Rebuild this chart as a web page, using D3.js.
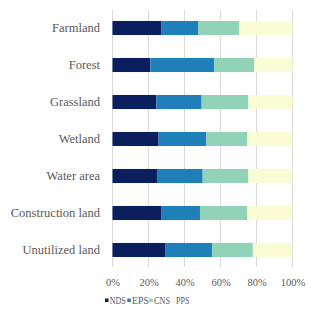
<!DOCTYPE html>
<html><head><meta charset="utf-8">
<script src="https://cdn.jsdelivr.net/npm/d3@7"></script>
<style>body{margin:0;background:#fff}</style>
</head><body>
<svg id="c" width="311" height="309"></svg>
<script>
const categories = ["Farmland","Forest","Grassland","Wetland","Water area","Construction land","Unutilized land"];
const seriesNames = ["NDS","EPS","CNS","PPS"];
const NDS = [27.0, 21.0, 24.3, 25.6, 24.7, 27.3, 29.5];
const EPS = [20.5, 35.6, 25.2, 26.4, 25.4, 21.3, 25.9];
const CNS = [23.0, 22.2, 26.0, 22.9, 25.4, 26.3, 22.6];
const PPS = [29.5, 21.2, 24.5, 25.1, 24.5, 25.1, 22.0];
const colors = ["#0b1f5e","#1f7fb8","#91d3b7","#fafdd3"];
const tickValues = [0,0.2,0.4,0.6,0.8,1];

const seriesVals = [NDS, EPS, CNS, PPS];
const rows = categories.map((c,i)=>{
  const o = {cat:c};
  seriesNames.forEach((s,j)=>o[s]=seriesVals[j][i]);
  return o;
});
const stacked = d3.stack().keys(seriesNames).offset(d3.stackOffsetExpand)(rows);

const svg = d3.select("#c");
const x = d3.scaleLinear().domain([0,1]).range([112.5,292.5]);
const y = d3.scaleBand().domain(categories).range([9.5,268.5]).paddingInner(0.62).paddingOuter(0.31);
const font = "'Liberation Serif', 'Times New Roman', serif";
const txt = "#595959";

// gridlines
svg.append("g").selectAll("line").data(tickValues).join("line")
  .attr("x1",d=>x(d)).attr("x2",d=>x(d)).attr("y1",10).attr("y2",267)
  .attr("stroke","#d9d9d9").attr("stroke-width",1);

// bars
svg.append("g").selectAll("g").data(stacked).join("g")
  .attr("fill",(d,i)=>colors[i])
  .selectAll("rect").data(d=>d).join("rect")
  .attr("x",d=>x(d[0])).attr("width",d=>x(d[1])-x(d[0]))
  .attr("y",d=>y(d.data.cat)).attr("height",y.bandwidth());

// category labels
svg.append("g").selectAll("text").data(categories).join("text")
  .attr("x",100).attr("y",d=>y(d)+y.bandwidth()/2).attr("dy","0.35em")
  .attr("text-anchor","end").attr("font-family",font).attr("font-size",12.5)
  .attr("fill",txt).text(d=>d);

// x axis
const xAxis = d3.axisBottom(x).tickValues(tickValues).tickFormat(d3.format(".0%")).tickSize(0).tickPadding(0);
const gx = svg.append("g").attr("transform","translate(0,278)").call(xAxis);
gx.select(".domain").remove();
gx.selectAll("text").attr("font-family",font).attr("font-size",10.5).attr("fill",txt).attr("dy","0.35em").attr("y",4.5);

// legend
const legX = [105,127.3,149.3,171.3];
const legW = [16,16.7,16,13.3];
const lg = svg.append("g").selectAll("g").data(seriesNames).join("g")
  .attr("transform",(d,i)=>`translate(${legX[i]},300)`);
lg.append("rect").attr("x",0).attr("y",-1.5).attr("width",3.5).attr("height",3.5).attr("fill",(d,i)=>colors[i]);
lg.append("text").attr("x",4.8).attr("y",0).attr("dy","0.35em").attr("font-family",font).attr("font-size",10.5)
  .attr("textLength",(d,i)=>legW[i]).attr("lengthAdjust","spacingAndGlyphs")
  .attr("fill",txt).text(d=>d);
</script>
</body></html>
